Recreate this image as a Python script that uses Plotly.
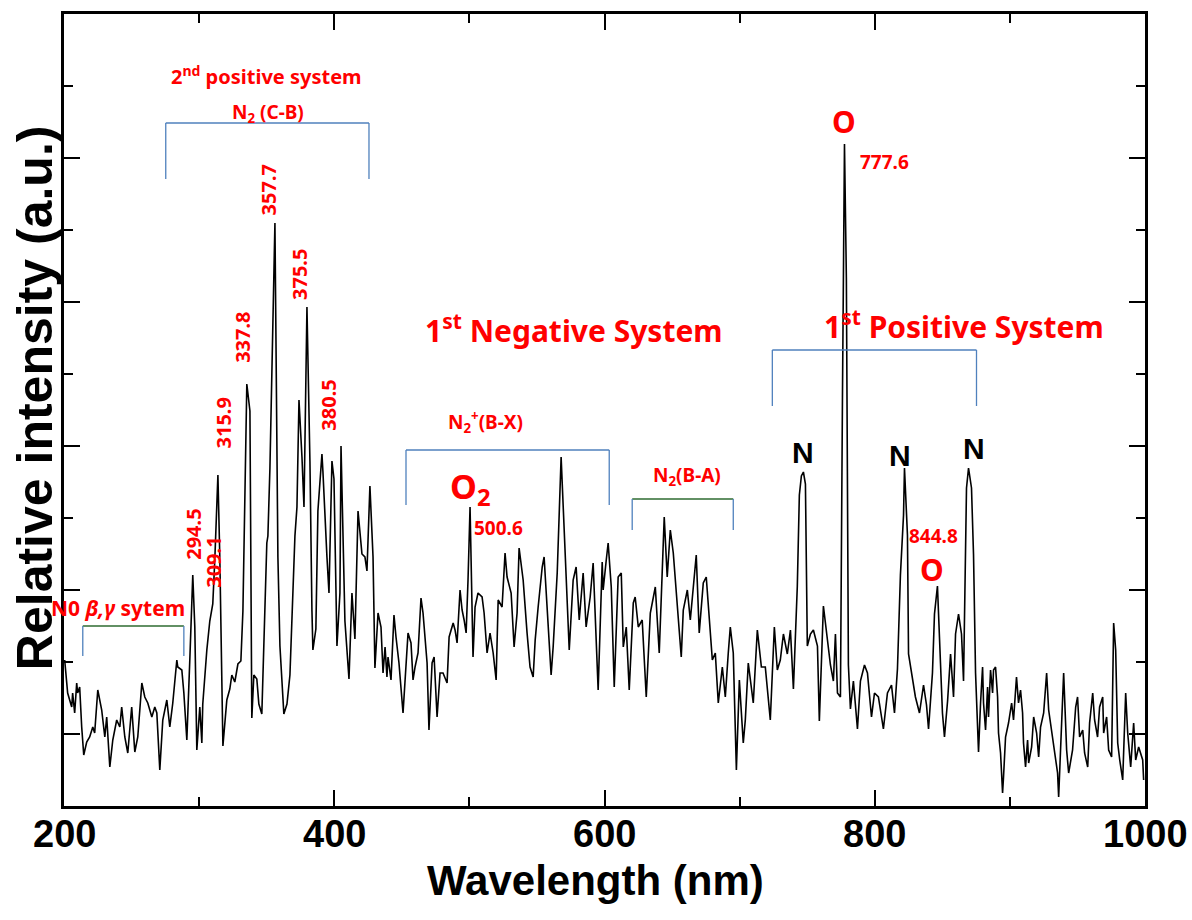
import plotly.graph_objects as go

# ---------------- data ----------------
wavelength = [
    200.5, 202.7, 205.7, 206.4, 207.9, 209.4, 210.1, 211.6, 213.1, 214.6, 216.8, 219.0, 221.3, 222.7,
    225.0, 227.9, 230.2, 231.6, 233.9, 236.1, 239.0, 241.3, 242.7, 245.0, 247.2, 250.1, 252.4, 254.6,
    257.6, 259.8, 262.0, 265.0, 267.2, 268.7, 270.9, 273.1, 276.1, 278.3, 280.5, 283.5, 284.2, 287.2,
    288.7, 290.9, 293.1, 295.3, 296.8, 298.3, 300.5, 302.0, 302.7, 305.7, 307.9, 310.1, 311.6, 313.9,
    315.3, 317.6, 320.5, 322.7, 324.2, 326.4, 328.7, 330.9, 332.4, 335.3, 337.6, 339.0, 340.5, 342.7,
    344.2, 346.4, 350.1, 350.9, 352.4, 356.1, 358.3, 359.8, 362.7, 365.0, 367.2, 370.9, 372.4, 373.9,
    376.1, 377.6, 379.8, 382.0, 383.5, 384.2, 386.4, 387.9, 390.9, 391.6, 394.6, 396.1, 398.3, 399.8,
    402.0, 404.2, 405.0, 407.9, 410.9, 413.1, 415.3, 417.6, 420.5, 422.7, 424.2, 426.4, 428.7, 430.1,
    432.4, 434.6, 436.1, 437.6, 439.0, 439.8, 442.0, 442.7, 444.2, 445.7, 447.9, 450.9, 453.1, 454.6,
    456.8, 458.3, 459.8, 462.0, 464.2, 465.7, 468.7, 470.1, 472.4, 473.9, 476.1, 478.3, 480.5, 483.5,
    485.0, 488.0, 489.4, 490.9, 493.1, 494.6, 496.1, 497.6, 499.0, 500.5, 502.7, 504.2, 506.4, 509.4,
    510.9, 513.1, 515.3, 517.6, 519.8, 521.3, 524.2, 526.4, 527.9, 530.9, 533.1, 535.3, 536.8, 539.8,
    542.7, 544.9, 547.2, 548.7, 550.9, 553.9, 555.3, 557.6, 560.5, 562.0, 565.0, 567.9, 569.4, 571.6,
    573.9, 576.8, 579.0, 581.3, 584.2, 586.4, 589.4, 591.6, 593.9, 595.3, 598.3, 599.0, 601.3, 602.7,
    605.0, 607.2, 610.1, 612.4, 613.9, 616.1, 618.3, 621.3, 622.7, 625.0, 627.9, 630.9, 633.9, 637.6,
    640.5, 642.7, 644.2, 646.4, 648.7, 650.9, 653.9, 656.8, 658.3, 661.3, 663.5, 665.7, 667.9, 670.1,
    673.1, 675.3, 677.6, 679.8, 682.0, 684.2, 687.2, 689.4, 691.6, 693.1, 695.3, 697.6, 699.8, 702.7,
    704.2, 706.4, 710.1, 713.1, 716.1, 719.0, 722.7, 725.7, 727.9, 730.1, 732.4, 735.3, 737.6, 739.8,
    742.7, 744.2, 745.7, 747.2, 748.7, 750.1, 752.4, 754.6, 757.6, 759.0, 762.0, 764.2, 767.2, 769.4,
    770.9, 772.4, 774.6, 776.1, 777.6, 779.0, 780.5, 782.0, 784.2, 787.2, 789.4, 792.4, 794.6, 797.6,
    799.8, 802.7, 806.4, 809.4, 812.4, 814.6, 816.8, 819.0, 821.3, 822.0, 824.2, 825.0, 827.9, 830.1,
    833.1, 836.1, 838.3, 839.8, 842.7, 844.2, 846.4, 847.9, 850.1, 851.6, 853.9, 856.1, 858.3, 859.8,
    862.0, 864.2, 865.7, 867.9, 869.4, 871.6, 873.1, 874.6, 876.8, 878.3, 879.8, 880.5, 882.0, 883.5,
    884.2, 885.7, 887.2, 887.9, 889.4, 890.9, 891.6, 893.1, 894.6, 895.3, 896.8, 899.0, 901.3, 902.7,
    904.9, 906.4, 907.9, 909.4, 910.1, 911.6, 913.1, 913.9, 916.1, 917.6, 919.8, 921.3, 922.7, 925.0,
    927.2, 928.7, 930.1, 932.4, 935.3, 936.1, 938.3, 939.8, 942.0, 943.5, 946.4, 948.7, 950.1, 951.6,
    953.9, 955.3, 957.6, 959.0, 961.3, 962.7, 964.9, 966.4, 968.7, 969.4, 971.6, 973.1, 975.3, 976.8,
    978.3, 979.8, 981.3, 983.5, 985.7, 987.2, 989.4, 991.6, 993.1, 995.3, 998.3, 999.0,
]
intensity = [
    146, 113, 99, 113, 93, 123, 113, 119, 79, 51, 64, 69, 79, 73,
    116, 96, 69, 89, 39, 66, 86, 79, 99, 69, 53, 99, 54, 69,
    123, 109, 103, 89, 99, 93, 36, 86, 106, 79, 103, 146, 139, 136,
    113, 66, 146, 231, 179, 56, 99, 63, 102, 156, 185, 202, 246, 331,
    249, 60, 106, 117, 131, 124, 142, 145, 195, 422, 395, 88, 131, 127,
    102, 92, 263, 270, 338, 583, 249, 160, 92, 102, 131, 270, 299, 406,
    349, 299, 499, 345, 195, 156, 177, 295, 352, 335, 249, 213, 345, 327,
    160, 213, 360, 185, 127, 213, 167, 295, 252, 249, 235, 320, 249, 138,
    193, 179, 133, 159, 129, 149, 126, 149, 191, 169, 143, 93, 136, 173,
    163, 126, 139, 153, 208, 193, 143, 76, 143, 149, 89, 133, 133, 123,
    169, 183, 176, 163, 216, 196, 186, 173, 226, 299, 149, 199, 213, 209,
    193, 153, 173, 153, 126, 206, 199, 253, 229, 213, 159, 193, 258, 226,
    173, 139, 129, 166, 199, 239, 249, 196, 131, 159, 233, 349, 299, 226,
    156, 226, 239, 186, 233, 179, 209, 243, 169, 116, 244, 216, 246, 263,
    219, 119, 229, 233, 159, 179, 116, 203, 209, 179, 186, 109, 193, 219,
    153, 243, 289, 229, 276, 253, 203, 149, 196, 216, 186, 219, 251, 173,
    223, 229, 186, 146, 153, 103, 139, 109, 153, 179, 153, 36, 126, 63,
    86, 143, 103, 176, 139, 139, 86, 179, 136, 146, 172, 152, 176, 117,
    220, 311, 330, 334, 322, 160, 172, 176, 160, 85, 200, 172, 141, 125,
    172, 113, 109, 409, 662, 528, 141, 97, 125, 77, 125, 141, 133, 89,
    113, 109, 77, 113, 121, 93, 137, 231, 291, 338, 271, 152, 125, 109,
    93, 121, 101, 77, 133, 192, 220, 172, 93, 69, 105, 152, 109, 172,
    192, 172, 125, 318, 338, 318, 251, 133, 54, 103, 139, 103, 76, 119,
    89, 136, 113, 136, 139, 109, 73, 53, 13, 29, 69, 83, 103, 86,
    129, 103, 116, 93, 63, 39, 66, 43, 59, 89, 73, 49, 79, 93,
    133, 96, 83, 63, 33, 9, 79, 133, 56, 33, 56, 99, 109, 69,
    76, 53, 39, 83, 113, 86, 69, 99, 109, 73, 89, 56, 49, 183,
    156, 63, 46, 26, 113, 73, 39, 83, 46, 59, 46, 26,
]

x_tick_values = [200, 400, 600, 800, 1000]
x_tick_labels = ["200", "400", "600", "800", "1000"]
x_minor_values = [300, 500, 700, 900]
y_major_values = [72, 216, 360, 504, 648]
y_minor_values = [144, 288, 432, 576, 720]

RED = "#ff0000"
BLUE = "#4f81bd"
GREEN = "#2e6b30"
ANN_FONT = "Noto Sans, Open Sans, Arial, sans-serif"
AXFONT = "Liberation Sans, Arial, sans-serif"

fig = go.Figure()
fig.add_trace(go.Scatter(
    x=wavelength, y=intensity, mode="lines",
    line=dict(color="black", width=1.6), showlegend=False, hoverinfo="skip",
))

# ---------------- brackets ----------------
def bracket(x0, x1, ytop, ybot, top_color, leg_color):
    fig.add_shape(type="line", x0=x0, x1=x1, y0=ytop, y1=ytop, xref="x", yref="y",
                  line=dict(color=top_color, width=1.3))
    for xx in (x0, x1):
        fig.add_shape(type="line", x0=xx, x1=xx, y0=ytop, y1=ybot, xref="x", yref="y",
                      line=dict(color=leg_color, width=1.3))

bracket(275.3, 425.7, 683, 627, BLUE, BLUE)      # N2 (C-B)
bracket(213.9, 288.7, 180, 150, GREEN, BLUE)     # NO beta,gamma
bracket(453.1, 603.5, 356, 301, BLUE, BLUE)      # N2+(B-X)
bracket(620.5, 695.3, 307, 276, GREEN, BLUE)     # N2(B-A)
bracket(724.2, 875.3, 456, 400, BLUE, BLUE)      # 1st positive

# ---------------- annotations ----------------
def txt(x, y, text, size, color=RED, angle=0, xanchor="center", yanchor="middle", family=ANN_FONT):
    fig.add_annotation(x=x, y=y, xref="x", yref="y", text=text, showarrow=False,
                       textangle=angle, xanchor=xanchor, yanchor=yanchor,
                       font=dict(family=family, size=size, color=color, weight="bold"))

txt(350.1, 731, "2<sup>nd</sup> positive system", 20)
txt(350.9, 693, "N<sub>2</sub> (C-B)", 19)

for wl_pos, val_pos, lab in [(295.3, 272, "294.5"), (310.1, 244, "309.1"), (317.3, 383, "315.9"),
                             (331.6, 469, "337.8"), (351.3, 616, "357.7"), (373.9, 532, "375.5"),
                             (395.1, 401, "380.5")]:
    txt(wl_pos, val_pos, lab, 20, angle=-90)

txt(291.0, 198, "N0 <i>β,γ</i> sytem", 21, xanchor="right")
txt(577.6, 477, "1<sup>st</sup> Negative System", 30)
txt(511.6, 384, "N<sub>2</sub><sup>+</sup>(B-X)", 19)
txt(484.2, 318, "O<sub>2</sub>", 34, xanchor="left")
txt(521.5, 278, "500.6", 19)
txt(661.3, 330, "N<sub>2</sub>(B-A)", 19)
txt(865.7, 481, "1<sup>st</sup> Positive System", 30)
for wl_pos, val_pos in [(747.2, 354), (819.0, 351), (873.1, 358)]:
    txt(wl_pos, val_pos, "N", 30, color="black", family=AXFONT)
txt(777.3, 685, "O", 30)
txt(807.2, 644, "777.6", 19)
txt(843.5, 270, "844.8", 19)
txt(842.4, 237, "O", 30)

# x tick labels (drawn from the tick arrays)
for tv, tl in zip(x_tick_values, x_tick_labels):
    fig.add_annotation(x=tv, y=-0.035, xref="x", yref="paper", text=tl, showarrow=False,
                       xanchor="center", yanchor="middle",
                       font=dict(family=AXFONT, size=38, color="black", weight="bold"))

# axis titles
fig.add_annotation(x=-0.0268, y=0.515, xref="paper", yref="paper", text="Relative intensity (a.u.)",
                   textangle=-90, showarrow=False, xanchor="center", yanchor="middle",
                   font=dict(family=AXFONT, size=50, color="black", weight="bold"))
fig.add_annotation(x=0.492, y=-0.0935, xref="paper", yref="paper", text="Wavelength (nm)",
                   showarrow=False, xanchor="center", yanchor="middle",
                   font=dict(family=AXFONT, size=42, color="black", weight="bold"))

axis_common = dict(showline=True, linecolor="black", linewidth=2.6, mirror="ticks",
                   ticks="inside", ticklen=16, tickwidth=2.4, tickcolor="black",
                   showgrid=False, zeroline=False, showticklabels=False)

fig.update_xaxes(range=[200, 1000], tickvals=x_tick_values,
                 minor=dict(ticks="inside", ticklen=9, tickwidth=2.4, tickcolor="black",
                            tickvals=x_minor_values),
                 **axis_common)
fig.update_yaxes(range=[0, 792], tickvals=y_major_values,
                 minor=dict(ticks="inside", ticklen=9, tickwidth=2.4, tickcolor="black",
                            tickvals=y_minor_values),
                 **axis_common)

fig.update_layout(width=1192, height=920, margin=dict(l=64, r=47, t=14, b=114),
                  plot_bgcolor="white", paper_bgcolor="white", showlegend=False)

fig.write_html("out.html")
